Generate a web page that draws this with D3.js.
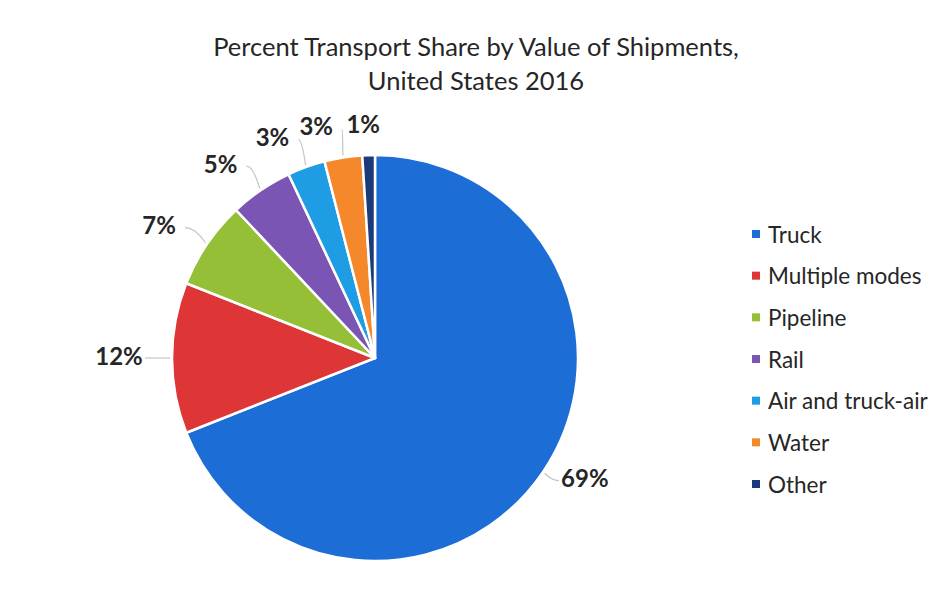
<!DOCTYPE html>
<html>
<head>
<meta charset="utf-8">
<script src="https://cdn.jsdelivr.net/npm/d3@7"></script>
<style>
  html, body { margin: 0; padding: 0; background: #ffffff; }
  svg { display: block; }
</style>
</head>
<body>
<svg id="chart" width="938" height="610"></svg>
<script>
// Transport modes and their share of shipment value (percent)
const modes = ["Truck", "Multiple modes", "Pipeline", "Rail", "Air and truck-air", "Water", "Other"];
const shares = [69, 12, 7, 5, 3, 3, 1];
const colors = ["#1c6dd6", "#de3537", "#95bf36", "#7b55b4", "#1e9de4", "#f4882a", "#1c3a7a"];
const titleLines = ["Percent Transport Share by Value of Shipments,", "United States 2016"];

const W = 938, H = 610;
const cx = 375, cy = 358, radius = 203;
const font = "Lato, 'Open Sans', sans-serif";

const svg = d3.select("#chart");

// Title
svg.append("g").selectAll("text")
  .data(titleLines)
  .join("text")
  .attr("x", 476)
  .attr("y", (d, i) => 56 + i * 34)
  .attr("text-anchor", "middle")
  .attr("font-family", font)
  .attr("font-size", 25.5)
  .attr("fill", "#262626")
  .text(d => d);

const data = modes.map((m, i) => ({ mode: m, value: shares[i], color: colors[i] }));

const pie = d3.pie().value(d => d.value).sort(null);
const arcs = pie(data);
const arc = d3.arc().innerRadius(0).outerRadius(radius);

const g = svg.append("g").attr("transform", `translate(${cx},${cy})`);

g.selectAll("path.slice")
  .data(arcs)
  .join("path")
  .attr("class", "slice")
  .attr("d", arc)
  .attr("fill", d => d.data.color)
  .attr("stroke", "#ffffff")
  .attr("stroke-width", 2.5)
  .attr("stroke-linejoin", "round");

// Data labels placed just outside each slice, with leader lines
const midAngle = d => (d.startAngle + d.endAngle) / 2;
const polar = (a, r) => [r * Math.sin(a), -r * Math.cos(a)];

const labelInfo = arcs.map(d => {
  const a = midAngle(d);
  const s = Math.sin(a);
  const c = Math.cos(a);
  const [px, py] = polar(a, 232);
  const shift = 24 * Math.sign(s) * Math.min(1, Math.abs(s) * 6);
  // labels below the centre sit a little higher, nearer the rim
  const lift = c < 0 ? 14 * c : 0;
  return { d, a, s, x: px + shift - (s > 0 ? 6 : 0), y: py - 3 + lift };
});

// Leader lines
g.selectAll("path.leader")
  .data(labelInfo.filter(l => l.d.data.value >= 2))
  .join("path")
  .attr("class", "leader")
  .attr("fill", "none")
  .attr("stroke", "#c4c4c4")
  .attr("stroke-width", 1.2)
  .attr("d", l => {
    const [x0, y0] = polar(l.a, radius + 2);
    const side = Math.sign(l.s);
    const x1 = l.x - side * 26;
    const y1 = l.y + 3;
    const mx = x0 + (x1 - x0) * 0.5, my = y1;
    return `M${x0},${y0} Q${mx},${my} ${x1},${y1}`;
  });

g.selectAll("text.label")
  .data(labelInfo)
  .join("text")
  .attr("class", "label")
  .attr("x", l => l.x)
  .attr("y", l => l.y)
  .attr("text-anchor", "middle")
  .attr("dominant-baseline", "central")
  .attr("font-family", font)
  .attr("font-weight", "bold")
  .attr("font-size", 24)
  .attr("fill", "#262626")
  .text(l => l.d.data.value + "%");

// Legend
const legendY = d3.scalePoint().domain(modes).range([234, 484]);
const legend = svg.append("g").selectAll("g")
  .data(data)
  .join("g")
  .attr("transform", d => `translate(752,${legendY(d.mode)})`);

legend.append("rect")
  .attr("x", 0).attr("y", -4)
  .attr("width", 8).attr("height", 8)
  .attr("fill", d => d.color);

legend.append("text")
  .attr("x", 16)
  .attr("y", 0)
  .attr("dominant-baseline", "central")
  .attr("font-family", font)
  .attr("font-size", 22.5)
  .attr("fill", "#262626")
  .text(d => d.mode);
</script>
</body>
</html>
